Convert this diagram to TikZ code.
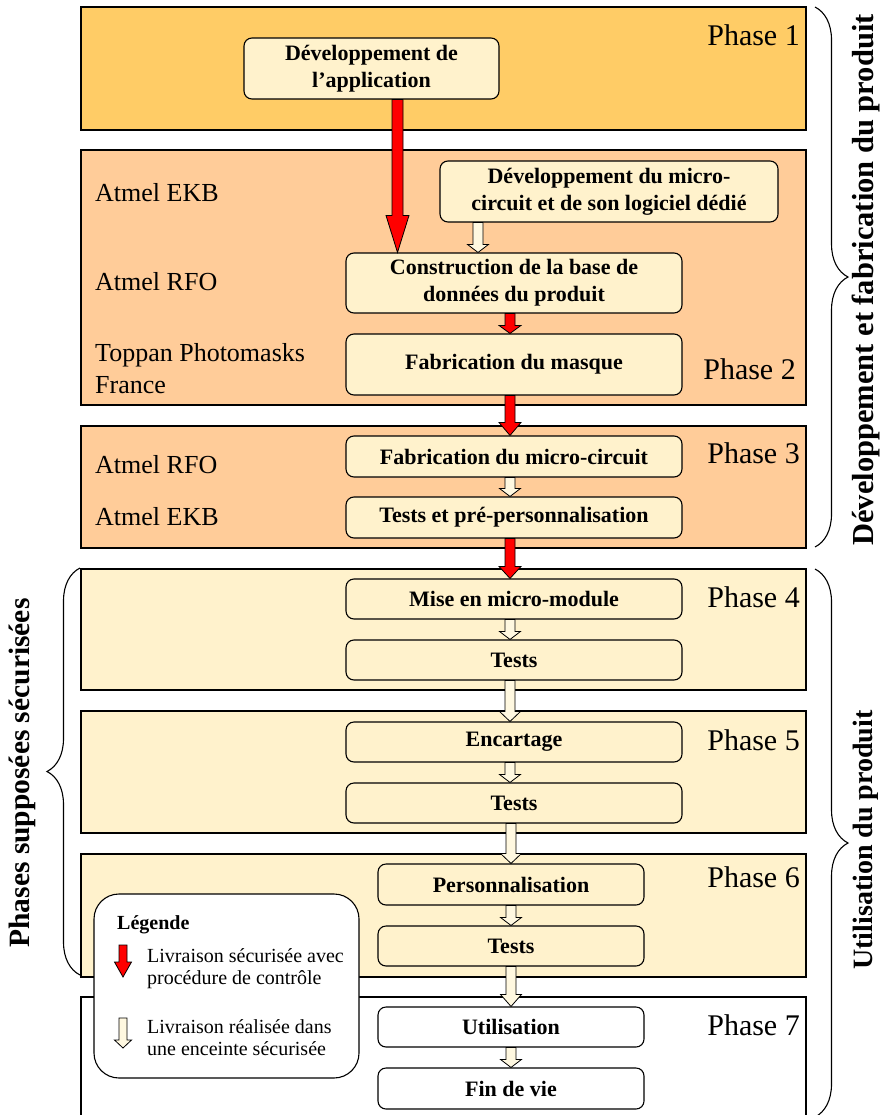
\documentclass[tikz,border=0pt]{standalone}
\usepackage{fontspec}
\setmainfont{Liberation Serif}
\usetikzlibrary{calc,decorations.pathreplacing}
\definecolor{pone}{HTML}{FFCC66}
\definecolor{ptwo}{HTML}{FFCC99}
\definecolor{pfour}{HTML}{FFF2CC}
\definecolor{boxfill}{HTML}{FFF2CC}
\definecolor{redarr}{HTML}{FF0000}
\definecolor{warr}{HTML}{FFF8E0}
\newcommand{\blockarr}[6]{%
  \draw[#1] ($(#2)+(-#4,0)$) -- ($(#3)+(-#4,-#6)$) -- ($(#3)+(-#5,-#6)$) -- (#3)
    -- ($(#3)+(#5,-#6)$) -- ($(#3)+(#4,-#6)$) -- ($(#2)+(#4,0)$) -- cycle;}
\tikzset{
  phase/.style={draw, line width=1.5pt, minimum width=725pt, inner sep=0pt},
  box/.style={draw, line width=1.1pt, rounded corners=8pt, fill=boxfill, align=center,
    font=\bfseries\fontsize{22}{27}\selectfont, inner sep=0pt, minimum width=336pt},
  plabel/.style={anchor=east, font=\fontsize{30}{32}\selectfont, inner sep=0pt},
  alabel/.style={anchor=west, font=\fontsize{26}{32}\selectfont, inner sep=0pt, align=left},
  redA/.style={draw=black, fill=redarr, line width=0.8pt, line join=miter},
  whiteA/.style={draw=black, fill=warr, line width=0.8pt, line join=miter},
  brlabel/.style={rotate=90, font=\bfseries\fontsize{28}{30}\selectfont, inner sep=0pt},
  brc/.style={decorate, decoration={brace, amplitude=33pt}, line width=1.1pt},
  legtext/.style={anchor=north west, align=left, font=\fontsize{20}{22}\selectfont, inner sep=0pt}
}
\begin{document}
\begin{tikzpicture}[x=1pt, y=-1pt]
\useasboundingbox (0,0) rectangle (882,1115);
% phases
\node[phase, fill=pone, minimum height=123pt] (ph1) at (443.5,68.5) {};
\node[phase, fill=ptwo, minimum height=255pt] (ph2) at (443.5,277.5) {};
\node[phase, fill=ptwo, minimum height=122pt] (ph3) at (443.5,487) {};
\node[phase, fill=pfour, minimum height=121pt] (ph4) at (443.5,629.5) {};
\node[phase, fill=pfour, minimum height=122pt] (ph5) at (443.5,772) {};
\node[phase, fill=pfour, minimum height=123pt] (ph6) at (443.5,915.5) {};
\node[phase, fill=white, minimum height=133pt] (ph7) at (443.5,1063.5) {};
% phase labels
\node[plabel] (l1) at (800,35) {Phase 1};
\node[plabel] (l2) at (796,369) {Phase 2};
\node[plabel] (l3) at (800,453) {Phase 3};
\node[plabel] (l4) at (800,597) {Phase 4};
\node[plabel] (l5) at (800,740) {Phase 5};
\node[plabel] (l6) at (800,877) {Phase 6};
\node[plabel] (l7) at (800,1025) {Phase 7};
% actors
\node[alabel] (a1) at (95,193) {Atmel EKB};
\node[alabel] (a2) at (95,282) {Atmel RFO};
\node[alabel] (a3) at (95,368.7) {Toppan Photomasks\\France};
\node[alabel] (a4) at (95,465) {Atmel RFO};
\node[alabel] (a5) at (95,517) {Atmel EKB};
% boxes
\node[box, minimum width=255pt, minimum height=61pt] (app) at (371.5,68.5) {Développement de\\l’application};
\node[box, minimum width=338pt, minimum height=61pt] (micro) at (609,191.5) {Développement du micro-\\circuit et de son logiciel dédié};
\node[box, minimum height=60pt] (cons) at (514,283) {Construction de la base de\\données du produit};
\node[box, minimum height=61pt] (masque) at (514,364.5) {Fabrication du masque};
\node[box, minimum height=41pt] (fabmc) at (514,456.5) {Fabrication du micro-circuit};
\node[box, minimum height=41pt] (tpp) at (514,517.5) {Tests et pré-personnalisation};
\node[box, minimum height=40pt] (mise) at (514,599) {Mise en micro-module};
\node[box, minimum height=40pt] (t4) at (514,660) {Tests};
\node[box, minimum height=40pt] (enc) at (514,742) {Encartage};
\node[box, minimum height=40pt] (t5) at (514,803) {Tests};
\node[box, minimum width=266pt, minimum height=41pt] (perso) at (511,884.5) {Personnalisation};
\node[box, minimum width=266pt, minimum height=40pt] (t6) at (511,946) {Tests};
\node[box, fill=white, minimum width=266pt, minimum height=40pt] (util) at (511,1027) {Utilisation};
\node[box, fill=white, minimum width=266pt, minimum height=41pt] (fin) at (511,1088.5) {Fin de vie};
% arrow columns
\coordinate (xa) at (397.5,0);
\coordinate (xb) at (510,0);
\coordinate (xc) at (478,0);
\coordinate (xd) at (511,0);
% red arrows
\coordinate (r1s) at (app.south -| xa);   \coordinate (r1e) at (cons.north -| xa);
\coordinate (r2s) at (cons.south -| xb);  \coordinate (r2e) at (masque.north -| xb);
\coordinate (r3s) at (masque.south -| xb);\coordinate (r3e) at (fabmc.north -| xb);
\coordinate (r4s) at (tpp.south -| xb);   \coordinate (r4e) at (mise.north -| xb);
\blockarr{redA}{r1s}{r1e}{5.5}{11.5}{37}
\blockarr{redA}{r2s}{r2e}{5}{11}{8}
\blockarr{redA}{r3s}{r3e}{5}{11}{13}
\blockarr{redA}{r4s}{r4e}{5}{11}{12}
% white arrows
\coordinate (w1s) at (micro.south -| xc); \coordinate (w1e) at (cons.north -| xc);
\coordinate (w2s) at (fabmc.south -| xb); \coordinate (w2e) at (tpp.north -| xb);
\coordinate (w3s) at (mise.south -| xb);  \coordinate (w3e) at (t4.north -| xb);
\coordinate (w4s) at (t4.south -| xb);    \coordinate (w4e) at (enc.north -| xb);
\coordinate (w5s) at (enc.south -| xb);   \coordinate (w5e) at (t5.north -| xb);
\coordinate (w6s) at (t5.south -| xd);    \coordinate (w6e) at (perso.north -| xd);
\coordinate (w7s) at (perso.south -| xd); \coordinate (w7e) at (t6.north -| xd);
\coordinate (w8s) at (t6.south -| xd);    \coordinate (w8e) at (util.north -| xd);
\coordinate (w9s) at (util.south -| xd);  \coordinate (w9e) at (fin.north -| xd);
\blockarr{whiteA}{w1s}{w1e}{5}{10.5}{8}
\blockarr{whiteA}{w2s}{w2e}{5}{10.5}{8}
\blockarr{whiteA}{w3s}{w3e}{5}{10.5}{8}
\blockarr{whiteA}{w4s}{w4e}{5}{10.5}{10}
\blockarr{whiteA}{w5s}{w5e}{5}{10.5}{8}
\blockarr{whiteA}{w6s}{w6e}{5}{10.5}{10}
\blockarr{whiteA}{w7s}{w7e}{5}{10.5}{8}
\blockarr{whiteA}{w8s}{w8e}{5}{10.5}{12}
\blockarr{whiteA}{w9s}{w9e}{5}{10.5}{8}
% braces
\coordinate (b1s) at (815,7);   \coordinate (b1e) at (815,547);
\coordinate (b2s) at (815,569); \coordinate (b2e) at (815,1117);
\coordinate (b3s) at (80,975);  \coordinate (b3e) at (80,568);
\draw[brc] (b1s) -- (b1e);
\draw[brc] (b2s) -- (b2e);
\draw[brc] (b3s) -- (b3e);
\node[brlabel, font=\bfseries\fontsize{30.5}{32}\selectfont] (bt1) at (866,280) {Développement et fabrication du produit};
\node[brlabel] (bt2) at (866,840) {Utilisation du produit};
\node[brlabel, font=\bfseries\fontsize{29.5}{31}\selectfont] (bt3) at (22,773) {Phases supposées sécurisées};
% legend
\node[draw, line width=1.1pt, rounded corners=25pt, fill=white, minimum width=265pt, minimum height=184pt, inner sep=0pt] (leg) at (226.5,986) {};
\node[anchor=west, font=\bfseries\fontsize{20}{22}\selectfont, inner sep=0pt] (legt) at (117,925) {Légende};
\coordinate (lr1) at (123,945); \coordinate (lr2) at (123,977);
\coordinate (lw1) at (123,1018); \coordinate (lw2) at (123,1048);
\blockarr{redA}{lr1}{lr2}{4}{8.5}{15}
\blockarr{whiteA}{lw1}{lw2}{4}{8.5}{8}
\node[legtext] (lg1) at (147,948) {Livraison sécurisée avec\\procédure de contrôle};
\node[legtext] (lg2) at (147,1019) {Livraison réalisée dans\\une enceinte sécurisée};
\end{tikzpicture}
\end{document}
